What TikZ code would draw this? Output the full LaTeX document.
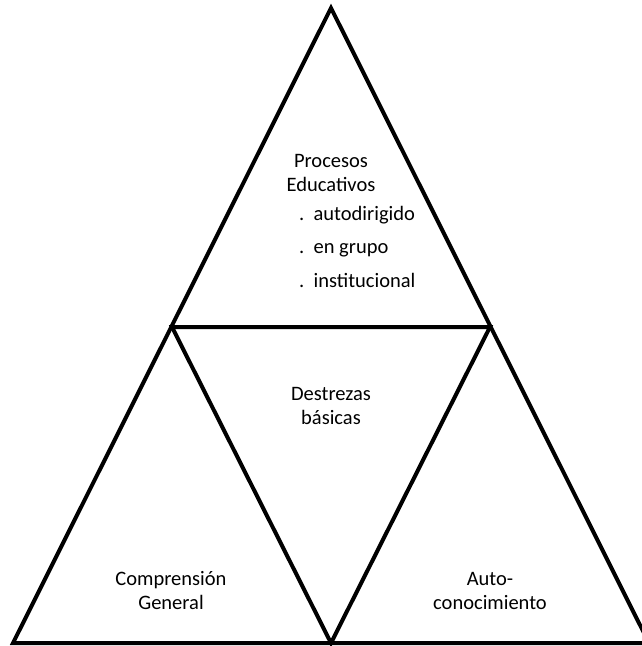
\documentclass[tikz,border=0pt]{standalone}
\usepackage{fontspec}
\setmainfont{Carlito}
\begin{document}
\begin{tikzpicture}[x=1pt,y=-1pt,
  edge/.style={line width=4pt, line join=miter},
  lbl/.style={align=center, inner sep=0pt, font=\fontsize{20.5}{24}\selectfont},
  item/.style={anchor=base west, inner sep=0pt, font=\fontsize{20.5}{24}\selectfont}]
\useasboundingbox (0,0) rectangle (642,646);
\clip (0,0) rectangle (642,646);
\coordinate (A) at (331,8);
\coordinate (L) at (172,327);
\coordinate (R) at (490,327);
\coordinate (BL) at (13,643);
\coordinate (BM) at (331,643);
\coordinate (BR) at (649,643);
\draw[edge] (A) -- (BL) -- (BR) -- cycle;
\draw[edge] (L) -- (R) -- (BM) -- cycle;
\node[lbl] (pe) at (331,173) {Procesos\\Educativos};
\node[item] (i1) at (299,220) {.\ \ autodirigido};
\node[item] (i2) at (299,253) {.\ \ en grupo};
\node[item] (i3) at (299,287) {.\ \ institucional};
\node[lbl] (db) at (331,406) {Destrezas\\básicas};
\node[lbl] (cg) at (171,591) {Comprensión\\General};
\node[lbl] (ac) at (490,591) {Auto-\\conocimiento};
\end{tikzpicture}
\end{document}
